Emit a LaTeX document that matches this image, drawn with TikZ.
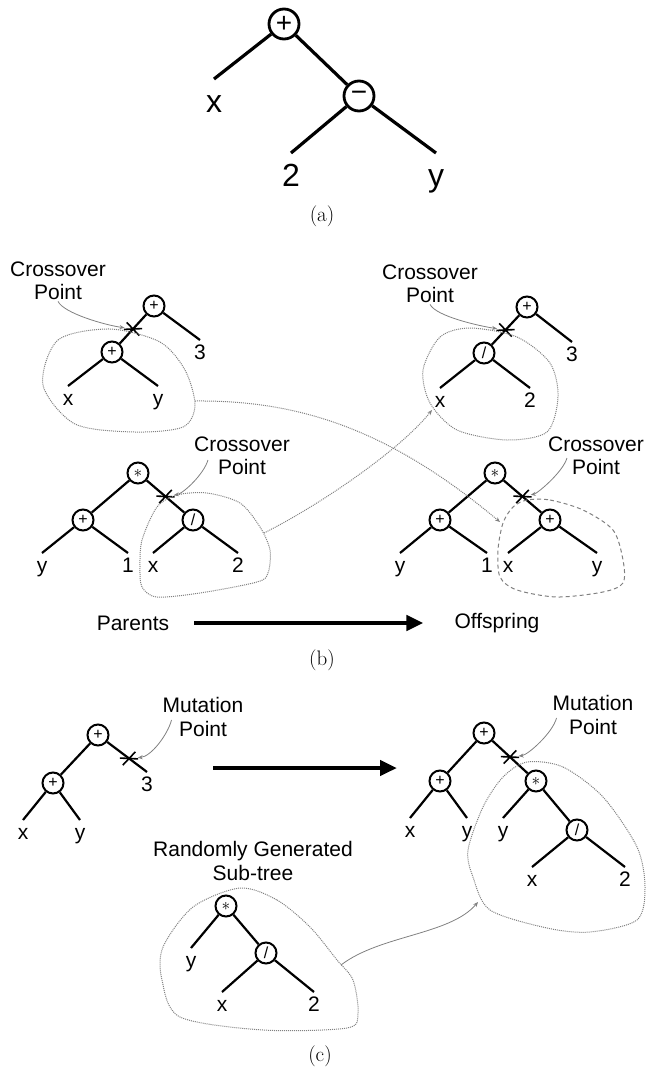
\documentclass[tikz,border=0pt]{standalone}
\usepackage{fontspec}
\newfontfamily\helv{Liberation Sans}
\usetikzlibrary{arrows.meta,shapes.misc,calc}

\begin{document}
\begin{tikzpicture}[x=1pt,y=-1pt,>=Stealth,
    op/.style={circle,draw,line width=2pt,minimum size=21pt,inner sep=0pt,font=\helv\fontsize{16}{16}\selectfont},
    bigop/.style={op,line width=2.8pt,minimum size=30pt,font=\helv\fontsize{28}{28}\selectfont},
    leaf/.style={anchor=north,inner sep=0pt,text height=19pt,text depth=0pt,font=\helv\fontsize{21}{21}\selectfont},
    bigleaf/.style={leaf,text height=33pt,font=\helv\fontsize{32}{32}\selectfont},
    branch/.style={line width=2.2pt},
    bigbranch/.style={line width=3.2pt},
    note/.style={align=center,inner sep=1pt,font=\helv\fontsize{21}{23.5}\selectfont},
    cut/.style={cross out,draw,line width=1.6pt,minimum width=15pt,minimum height=6pt,inner sep=0pt},
    callout/.style={gray,line width=0.8pt,-{Stealth[length=5pt,width=4pt]}},
    blob/.style={gray,densely dotted,line width=1pt},
    link/.style={blob,-{Stealth[length=5pt,width=4pt]}},
    bigarrow/.style={line width=4.4pt,-{Triangle[length=17pt,width=15pt]}},
    caption/.style={font=\fontsize{21}{21}\selectfont}]

\useasboundingbox (0,0) rectangle (645,1070);

% (a)
\node[bigop] (plusA) at (284,24) {+};
\node[bigop] (minusA) at (359,96) {−};
\node[bigleaf] (xA) at (214,79) {x};
\node[bigleaf] (twoA) at (291,153) {2};
\node[bigleaf] (yA) at (436,153) {y};
\draw[bigbranch] (plusA) -- (xA.north);
\draw[bigbranch] (plusA) -- (minusA);
\draw[bigbranch] (minusA) -- (twoA.north);
\draw[bigbranch] (minusA) -- (yA.north);
\node[caption] (capA) at (322,216) {(a)};

% (b) first parent
\node[op] (plusP1) at (154,306) {+};
\node[op] (plusP1b) at (112,352) {+};
\node[leaf] (threeP1) at (200,340) {3};
\node[leaf] (xP1) at (68,386) {x};
\node[leaf] (yP1) at (158,386) {y};
\draw[branch] (plusP1) -- node[cut,rotate=-22] (cutP1) {} (plusP1b);
\draw[branch] (plusP1) -- (threeP1.north);
\draw[branch] (plusP1b) -- (xP1.north);
\draw[branch] (plusP1b) -- (yP1.north);
\node[note] (cpP1) at (58,281) {Crossover\\Point};
\draw[callout] (cpP1.south) .. controls +(6,12) and +(-28,-4) .. (cutP1);
\draw[blob] plot[smooth cycle] coordinates {(43,385) (58,340) (110,329) (160,342) (185,370) (195,405) (183,427) (135,432) (75,424)};
\coordinate (blobP1) at (195,401);

% (b) second parent
\node[op] (starP2) at (138,473) {$\ast$};
\node[op] (plusP2) at (83,520) {+};
\node[op] (divP2) at (193,520) {/};
\node[leaf] (yP2) at (42,553) {y};
\node[leaf] (oneP2) at (128,553) {1};
\node[leaf] (xP2) at (153,553) {x};
\node[leaf] (twoP2) at (238,553) {2};
\draw[branch] (starP2) -- (plusP2);
\draw[branch] (starP2) -- node[cut,rotate=22] (cutP2) {} (divP2);
\draw[branch] (plusP2) -- (yP2.north);
\draw[branch] (plusP2) -- (oneP2.north);
\draw[branch] (divP2) -- (xP2.north);
\draw[branch] (divP2) -- (twoP2.north);
\node[note] (cpP2) at (242,456) {Crossover\\Point};
\draw[callout] ($(cpP2.west)+(15,4)$) .. controls +(-4,14) and +(18,-3) .. (cutP2);
\draw[blob] plot[smooth cycle] coordinates {(157,507) (177,495) (207,493) (240,503) (260,527) (270,550) (268,573) (257,582) (200,593) (157,597) (142,587) (140,567) (142,540)};
\coordinate (blobP2) at (264,533);

% (b) first offspring
\node[op] (plusO1) at (527,307) {+};
\node[op] (divO1) at (484,353) {/};
\node[leaf] (threeO1) at (572,342) {3};
\node[leaf] (xO1) at (440,388) {x};
\node[leaf] (twoO1) at (530,388) {2};
\draw[branch] (plusO1) -- node[cut,rotate=-22] (cutO1) {} (divO1);
\draw[branch] (plusO1) -- (threeO1.north);
\draw[branch] (divO1) -- (xO1.north);
\draw[branch] (divO1) -- (twoO1.north);
\node[note] (cpO1) at (430,284) {Crossover\\Point};
\draw[callout] (cpO1.south) .. controls +(6,12) and +(-26,-4) .. (cutO1);
\draw[blob] plot[smooth cycle] coordinates {(470,328) (517,337) (550,363) (558,397) (547,432) (507,440) (457,430) (430,403) (423,370) (440,337)};
\coordinate (blobO1) at (432,410);

% (b) second offspring
\node[op] (starO2) at (495,473) {$\ast$};
\node[op] (plusO2) at (440,520) {+};
\node[op] (plusO2b) at (550,520) {+};
\node[leaf] (yO2) at (400,553) {y};
\node[leaf] (oneO2) at (487,553) {1};
\node[leaf] (xO2) at (508,553) {x};
\node[leaf] (yO2b) at (597,553) {y};
\draw[branch] (starO2) -- (plusO2);
\draw[branch] (starO2) -- node[cut,rotate=22] (cutO2) {} (plusO2b);
\draw[branch] (plusO2) -- (yO2.north);
\draw[branch] (plusO2) -- (oneO2.north);
\draw[branch] (plusO2b) -- (xO2.north);
\draw[branch] (plusO2b) -- (yO2b.north);
\node[note] (cpO2) at (596,456) {Crossover\\Point};
\draw[callout] ($(cpO2.west)+(20,2)$) .. controls +(-4,14) and +(15,-3) .. (cutO2);
\draw[blob,dash pattern=on 4pt off 3pt] plot[smooth cycle] coordinates {(527,500) (550,500) (583,510) (613,530) (623,560) (623,583) (603,592) (557,597) (517,590) (500,577) (498,550) (503,523) (513,507)};
\coordinate (blobO2) at (500,522);

% swapped sub-trees
\draw[link] (blobP1) .. controls (300,400) and (390,430) .. (blobO2);
\draw[link] (blobP2) .. controls (320,505) and (400,450) .. (blobO1);

\node[note] (parents) at (133,623) {Parents};
\node[note] (offspring) at (497,623) {Offspring};
\draw[bigarrow,shorten <=24pt,shorten >=30pt] (parents) -- (offspring);
\node[caption] (capB) at (322,660) {(b)};

% (c) before mutation
\node[op] (plusM1) at (98,735) {+};
\node[op] (plusM1b) at (53,783) {+};
\node[leaf] (threeM1) at (147,772) {3};
\node[leaf] (xM1) at (23,820) {x};
\node[leaf] (yM1) at (80,820) {y};
\draw[branch] (plusM1) -- (plusM1b);
\draw[branch] (plusM1) -- node[cut,rotate=22,pos=.55] (cutM1) {} (threeM1.north);
\draw[branch] (plusM1b) -- (xM1.north);
\draw[branch] (plusM1b) -- (yM1.north);
\node[note] (mpM1) at (203,717) {Mutation\\Point};
\draw[callout] ($(mpM1.west)+(10,3)$) .. controls +(-4,15) and +(22,-2) .. (cutM1);

\coordinate (mutFrom) at (213,768);
\coordinate (mutTo) at (397,768);
\draw[bigarrow] (mutFrom) -- (mutTo);

% (c) after mutation
\node[op] (plusM2) at (484,733) {+};
\node[op] (plusM2b) at (440,781) {+};
\node[op] (starM2) at (536,781) {$\ast$};
\node[op] (divM2) at (577,830) {/};
\node[leaf] (xM2) at (410,818) {x};
\node[leaf] (yM2) at (467,818) {y};
\node[leaf] (yM2b) at (503,818) {y};
\node[leaf] (xM2b) at (532,867) {x};
\node[leaf] (twoM2) at (625,867) {2};
\draw[branch] (plusM2) -- (plusM2b);
\draw[branch] (plusM2) -- node[cut,rotate=22] (cutM2) {} (starM2);
\draw[branch] (plusM2b) -- (xM2.north);
\draw[branch] (plusM2b) -- (yM2.north);
\draw[branch] (starM2) -- (yM2b.north);
\draw[branch] (starM2) -- (divM2);
\draw[branch] (divM2) -- (xM2b.north);
\draw[branch] (divM2) -- (twoM2.north);
\node[note] (mpM2) at (593,715) {Mutation\\Point};
\draw[callout] ($(mpM2.west)+(5,3)$) .. controls +(-4,15) and +(18,-2) .. (cutM2);
\draw[blob] plot[smooth cycle] coordinates {(527,762) (563,767) (603,797) (637,847) (645,887) (637,920) (590,932) (547,928) (490,910) (473,877) (468,850) (483,807) (503,777)};
\coordinate (blobM2) at (478,902);

% (c) random sub-tree
\node[note] (rgLabel) at (253,861) {Randomly Generated\\Sub-tree};
\node[op] (starR) at (226,906) {$\ast$};
\node[op] (divR) at (266,953) {/};
\node[leaf] (yR) at (191,948) {y};
\node[leaf] (xR) at (222,992) {x};
\node[leaf] (twoR) at (314,992) {2};
\draw[branch] (starR) -- (yR.north);
\draw[branch] (starR) -- (divR);
\draw[branch] (divR) -- (xR.north);
\draw[branch] (divR) -- (twoR.north);
\draw[blob] plot[smooth cycle] coordinates {(240,888) (277,900) (310,927) (337,960) (353,980) (358,1013) (347,1028) (263,1030) (180,1017) (162,980) (163,947) (193,907)};
\coordinate (blobR) at (341,965);
\draw[callout] (blobR) .. controls (380,935) and (450,935) .. (blobM2);
\node[caption] (capC) at (320,1056) {(c)};

\end{tikzpicture}
\end{document}
